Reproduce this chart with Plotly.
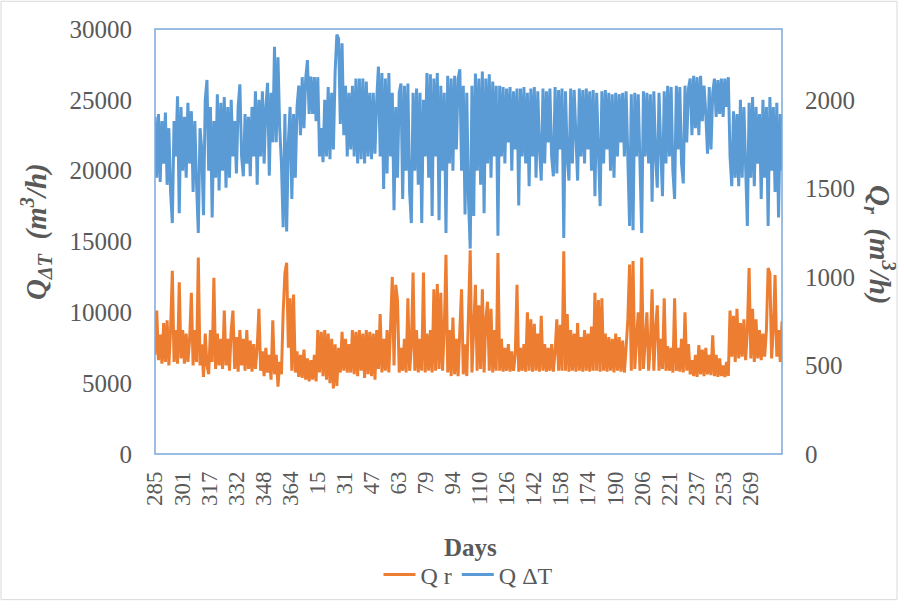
import plotly.graph_objects as go

# ---------------- data ----------------
tick_labels = ["285", "301", "317", "332", "348", "364", "15", "31", "47", "63", "79", "94",
               "110", "126", "142", "158", "174", "190", "206", "221", "237", "253", "269"]

# Q ΔT (m3/h), left axis, one value per ~day step
q_dt = [
    23800, 19500, 24000, 19200, 23500, 20500, 24100, 19000, 23000, 18500,
    16300, 23500, 21000, 25250, 17000, 24500, 20000, 23800, 19500, 24800,
    20500, 24200, 18500, 23500, 19000, 15600, 23000, 21500, 16850, 25000,
    26400, 20000, 24500, 16700, 23500, 19500, 25400, 18600, 24800, 20000,
    25200, 18800, 24500, 19500, 25000, 21000, 23500, 19800, 24500, 26100,
    21000, 19600, 24000, 20500, 23800, 19600, 24500, 21000, 25600, 19000,
    25000, 21000, 25600, 20500, 24500, 26200, 19650, 25500, 22000, 28750,
    22000, 28000, 23000, 20500, 16000, 24000, 15700, 22000, 24500, 18000,
    24000, 19500, 24500, 26000, 22500, 26600, 23000, 26500, 27800, 24000,
    26650, 24000, 26600, 23500, 26600, 21000, 23000, 20600, 25000, 21000,
    25900, 20800, 25500, 21500, 27000, 29600, 29300, 23300, 29000, 22500,
    26000, 21000, 25500, 21500, 26000, 21000, 26500, 20500, 26500, 20800,
    26500, 20500, 26300, 21000, 25500, 20800, 25500, 21200, 25000, 27350,
    21000, 26900, 18700, 26500, 19800, 26900, 21000, 25500, 17200, 24500,
    19500, 25500, 26150, 18000, 26000, 20000, 26150, 18500, 16300, 25500,
    20000, 25800, 19000, 25500, 16300, 25000, 21000, 26900, 19500, 26800,
    16800, 26500, 21000, 26900, 16500, 26000, 20000, 25500, 15600, 26700,
    20500, 26500, 20000, 26700, 21500, 26500, 27150, 20000, 26000, 16900,
    25500, 18000, 14500, 26000, 16800, 26850, 20000, 26500, 19000, 27000,
    17000, 26500, 20500, 26800, 19500, 26300, 21000, 26000, 15400, 26000,
    21000, 25900, 20500, 25800, 22000, 25900, 20000, 25600, 21500, 25800,
    17550, 25800, 21000, 25900, 20500, 25500, 18900, 25800, 21000, 25900,
    19500, 25600, 21500, 19300, 25800, 20500, 25600, 22000, 25800, 21000,
    19600, 25900, 19800, 25700, 21500, 25800, 15250, 25600, 21000, 19300,
    25800, 20500, 25700, 22000, 19300, 25800, 21000, 25700, 20500, 25800,
    21500, 25600, 20000, 25700, 18200, 25500, 21000, 17500, 25600, 20500,
    25700, 21500, 25500, 20000, 25400, 19500, 25500, 21000, 25400, 22000,
    25500, 21000, 25600, 20600, 16100, 25400, 15800, 25500, 21000, 25400,
    20000, 15600, 25600, 21000, 25500, 20500, 25400, 17800, 25600, 21000,
    18800, 25500, 21500, 18200, 25600, 20500, 26000, 21000, 25900, 20000,
    18000, 26000, 21500, 25900, 20500, 19100, 26000, 22000, 25800, 26500,
    22500, 26700, 23000, 26600, 22500, 26700, 23500, 26000, 24000, 21200,
    25900, 21500, 25500, 26500, 23800, 26400, 24000, 26500, 23800, 26500,
    24500, 26600, 21000, 18900, 24200, 19500, 24000, 18900, 25000, 19500,
    24500, 20000, 16100, 24800, 19500, 25200, 18900, 24500, 20500, 24000,
    18000, 25000, 19500, 24500, 16100, 25200, 20000, 24500, 18500, 24800,
    16700, 24000, 20000,
]

# Q r (m3/h), right axis
q_r = [
    560, 810, 530, 675, 510, 740, 520, 755, 500, 700,
    1035, 520, 700, 510, 970, 540, 700, 510, 680, 520,
    650, 910, 500, 700, 520, 1110, 500, 620, 435, 680,
    500, 450, 700, 520, 995, 480, 680, 500, 650, 480,
    810, 500, 650, 470, 700, 810, 480, 660, 465, 700,
    500, 650, 470, 700, 480, 640, 465, 620, 480, 600,
    820, 470, 580, 440, 600, 460, 560, 420, 755, 450,
    560, 380, 520, 450, 800, 1020, 1080, 600, 880, 470,
    900, 460, 580, 435, 560, 430, 590, 420, 540, 410,
    530, 420, 560, 410, 700, 460, 690, 440, 700, 420,
    680, 400, 650, 370, 620, 385, 600, 460, 690, 470,
    650, 460, 620, 460, 700, 450, 690, 440, 700, 470,
    680, 430, 700, 450, 690, 440, 680, 420, 700, 480,
    790, 460, 650, 470, 700, 460, 720, 1000, 500, 955,
    870, 460, 600, 470, 650, 460, 880, 470, 600, 1025,
    470, 700, 460, 650, 470, 1025, 460, 680, 470, 700,
    460, 930, 470, 960, 480, 910, 470, 700, 1125, 460,
    700, 440, 770, 450, 650, 440, 700, 930, 450, 620,
    440, 880, 1150, 460, 700, 955, 470, 840, 480, 930,
    460, 760, 860, 470, 820, 460, 700, 470, 1135, 470,
    650, 465, 600, 470, 620, 465, 580, 470, 560, 955,
    465, 600, 470, 620, 465, 800, 470, 760, 465, 735,
    470, 680, 465, 780, 470, 620, 465, 600, 470, 620,
    465, 580, 760, 470, 730, 470, 1145, 470, 790, 465,
    700, 470, 680, 465, 740, 470, 660, 465, 700, 470,
    680, 465, 720, 470, 910, 470, 870, 465, 880, 470,
    680, 465, 660, 470, 650, 460, 680, 470, 660, 465,
    640, 460, 600, 760, 1070, 470, 1090, 480, 650, 800,
    470, 1110, 480, 650, 800, 470, 620, 930, 470, 700,
    840, 470, 650, 480, 880, 470, 610, 470, 600, 460,
    880, 470, 600, 465, 650, 460, 800, 470, 620, 450,
    530, 440, 560, 435, 615, 450, 590, 440, 600, 450,
    560, 445, 670, 440, 560, 435, 540, 440, 500, 435,
    520, 440, 810, 550, 780, 520, 820, 540, 740, 550,
    760, 530, 700, 1050, 540, 820, 520, 760, 540, 700,
    530, 680, 550, 700, 1050, 1020, 540, 700, 1010, 550,
    700, 520, 750,
]

left_ticks = [0, 5000, 10000, 15000, 20000, 25000, 30000]
right_ticks = [0, 500, 1000, 1500, 2000]
days_per_label = 15.625  # label spacing along the category axis

# ---------------- figure ----------------
W, H = 904, 609
L, R, T, B = 155, 122, 29, 151
pw, ph = W - L - R, H - T - B

def px(x):
    return (x - L) / pw

def py(y):
    return (H - B - y) / ph

x_idx = list(range(len(q_dt)))
font_fam = "Liberation Serif, Times New Roman, serif"
grey = "#595959"
orange = "#ED7D31"
blue = "#5B9BD5"

fig = go.Figure()
fig.add_trace(go.Scatter(x=x_idx, y=q_r, name="Q r", mode="lines",
                         line=dict(color=orange, width=3), yaxis="y2"))
fig.add_trace(go.Scatter(x=x_idx, y=q_dt, name="Q ΔT", mode="lines",
                         line=dict(color=blue, width=3), yaxis="y"))

tickvals = [k * days_per_label for k in range(len(tick_labels))]

fig.update_layout(
    width=W, height=H,
    margin=dict(l=L, r=R, t=T, b=B),
    paper_bgcolor="white", plot_bgcolor="white",
    font=dict(family=font_fam, color=grey, size=22),
    showlegend=True,
    legend=dict(orientation="h", x=0.5, xanchor="center", y=py(580), yanchor="middle",
                font=dict(size=24, color=grey), traceorder="normal",
                itemwidth=32, bgcolor="rgba(0,0,0,0)"),
    xaxis=dict(range=[0, len(q_dt) - 1], tickmode="array", tickvals=tickvals,
               ticktext=tick_labels, tickangle=-90, showgrid=False, zeroline=False,
               showline=False, ticks="", tickfont=dict(size=23, color=grey),
               ticklabelstandoff=12),
    yaxis=dict(range=[0, 30000], tickmode="array", tickvals=left_ticks,
               ticktext=[str(v) for v in left_ticks], showgrid=False, zeroline=False,
               showline=False, ticks="", tickfont=dict(size=25, color=grey),
               ticklabelstandoff=22),
    yaxis2=dict(range=[0, 2400], tickmode="array", tickvals=right_ticks,
                ticktext=[str(v) for v in right_ticks],
                overlaying="y", side="right", showgrid=False, zeroline=False,
                showline=False, ticks="", tickfont=dict(size=25, color=grey),
                ticklabelstandoff=22),
)

# x-axis title
fig.add_annotation(text="<b>Days</b>", xref="paper", yref="paper", x=px(470), y=py(552),
                   showarrow=False, font=dict(size=25, color=grey),
                   xanchor="center", yanchor="middle")
# left axis title (reads bottom to top)
fig.add_annotation(text="<b><i>Q<sub>ΔT</sub>  (m<sup>3</sup>/h)</i></b>",
                   xref="paper", yref="paper", x=px(36), y=py(234),
                   textangle=-90, showarrow=False, font=dict(size=29, color=grey),
                   xanchor="center", yanchor="middle")
# right axis title (reads top to bottom)
fig.add_annotation(text="<b><i>Q<sub>r</sub>  (m<sup>3</sup>/h)</i></b>",
                   xref="paper", yref="paper", x=px(880), y=py(247),
                   textangle=90, showarrow=False, font=dict(size=29, color=grey),
                   xanchor="center", yanchor="middle")

# plot-area border
fig.add_shape(type="rect", xref="paper", yref="paper", x0=0, y0=0, x1=1, y1=1,
              line=dict(color="#7BA7DA", width=1.5), layer="above")
# chart-area border
fig.add_shape(type="rect", xref="paper", yref="paper", x0=px(1), y0=py(605), x1=px(897), y1=py(1),
              line=dict(color="#D9D9D9", width=1), layer="below")

fig.write_html("out.html")
